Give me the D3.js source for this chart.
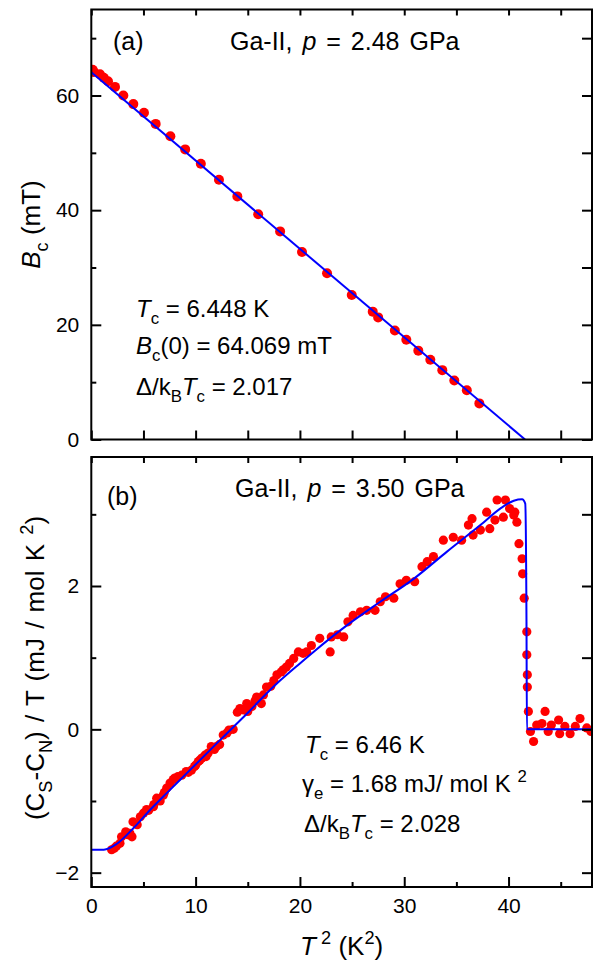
<!DOCTYPE html>
<html>
<head>
<meta charset="utf-8">
<script src="https://cdn.jsdelivr.net/npm/d3@7"></script>
<style>
  body { margin: 0; background: #fff; }
  text { font-family: "Liberation Sans", Arial, sans-serif; fill: #000; }
</style>
</head>
<body>
<div id="chart"></div>
<script>
// ---- data: panel (a) critical field vs T^2 ----
const bcT2  = [0.13, 0.25, 0.83, 1.2, 1.6, 2.27, 3.07, 4.03, 5.05, 6.17, 7.58, 9.0, 10.5, 12.24, 14.0,
               16.0, 18.1, 20.2, 22.6, 24.97, 26.98, 27.5, 29.1, 30.2, 31.35, 32.5, 33.65, 34.8, 36.0, 37.2];
const bcVal = [64.5, 64.1, 63.7, 63.1, 62.5, 61.5, 60.0, 58.5, 57.0, 55.05, 52.9, 50.6, 48.1, 45.3, 42.4,
               39.3, 36.3, 32.7, 29.0, 25.2, 22.3, 21.3, 19.0, 17.4, 15.5, 13.9, 12.1, 10.3, 8.6, 6.3];
const bcFitT2  = [0, 41.58];
const bcFitVal = [64.069, 0];

// ---- data: panel (b) specific heat difference vs T^2 ----
const cpT2 = [1.95, 2.2, 2.4, 2.75, 2.9, 3.3, 3.5, 3.7, 3.9, 4.0, 4.4, 4.7, 5.0, 5.3, 5.5, 5.95, 6.0, 6.27,
              6.6, 6.9, 7.0, 7.23, 7.55, 7.86, 8.0, 8.3, 8.67, 9.1, 9.3, 9.6, 9.9, 10.0, 10.26, 10.4, 10.6,
              10.9, 11.0, 11.2, 11.5, 11.8, 12.0, 12.3, 12.65, 13.0, 13.2, 13.6, 14.0, 14.25, 14.6, 14.9, 15.0,
              15.4, 15.7, 15.85, 16.3, 16.5, 16.8, 17.2, 17.5, 17.8, 18.2, 18.4, 18.7, 19.0, 19.4, 19.85, 20.3,
              20.65, 21.1, 21.9, 22.9, 23.0, 23.6, 24.2, 24.6, 25.1, 25.8, 26.4, 27.2, 27.7, 28.2, 29.0, 29.6,
              30.2, 31.0, 31.7, 32.2, 32.8, 33.75, 34.7, 35.5, 36.15, 36.5, 36.6, 37.3, 37.9, 38.2, 38.7, 38.9,
              39.5, 39.7, 40.1, 40.5, 40.6, 40.8, 41.0, 41.3, 41.35, 41.5, 41.75, 41.75, 41.8, 41.8, 41.9, 42.1,
              42.4, 42.7, 43.2, 43.5, 43.8, 44.1, 44.8, 44.9, 45.4, 45.9, 46.4, 46.85, 47.5, 47.9];
const cpVal = [-1.68, -1.66, -1.63, -1.59, -1.50, -1.43, -1.47, -1.45, -1.50, -1.29, -1.33, -1.22, -1.17,
               -1.12, -1.13, -1.08, -1.05, -0.96, -1.0, -0.92, -0.88, -0.82, -0.75, -0.70, -0.68, -0.66, -0.64,
               -0.59, -0.60, -0.57, -0.52, -0.50, -0.45, -0.43, -0.40, -0.36, -0.38, -0.33, -0.24, -0.28, -0.24,
               -0.21, -0.08, -0.05, -0.01, 0.0, 0.24, 0.29, 0.27, 0.36, 0.25, 0.32, 0.40, 0.45, 0.36, 0.48,
               0.59, 0.60, 0.68, 0.76, 0.80, 0.83, 0.87, 0.92, 0.99, 1.08, 1.06, 1.08, 1.17, 1.27, 1.08, 1.29,
               1.32, 1.29, 1.50, 1.59, 1.64, 1.66, 1.66, 1.78, 1.85, 1.83, 2.03, 2.08, 2.06, 2.27, 2.34, 2.41,
               2.64, 2.68, 2.64, 2.85, 2.94, 2.71, 2.78, 3.03, 2.80, 2.92, 3.20, 2.96, 3.20, 3.08, 2.99, 3.03,
               2.89, 2.59, 2.38, 2.17, 1.83, 1.36, 1.04, 0.76, 0.59, 0.25, -0.03, -0.17, 0.06, 0.08, 0.25,
               -0.03, 0.06, 0.13, -0.06, 0.04, -0.06, 0.04, 0.15, 0.02, -0.03];
const cpFitT2  = [0, 1.2, 2.43, 4.03, 5.63, 7.23, 8.82, 10.42, 12.0, 13.6, 15.2, 16.8, 18.1, 20.0, 21.3,
                  24.5, 27.7, 30.9, 34.1, 37.3, 39.2, 40.5, 41.3, 41.6, 41.72, 41.76, 48];
const cpFitVal = [-1.68, -1.68, -1.60, -1.38, -1.125, -0.89, -0.66, -0.43, -0.2, 0.03, 0.26, 0.5, 0.68, 0.92,
                  1.08, 1.45, 1.78, 2.10, 2.48, 2.85, 3.08, 3.19, 3.21, 3.15, 1.5, 0, 0];

// ---- ticks ----
const xMajor = [0, 10, 20, 30, 40];
const xMinor = [5, 15, 25, 35, 45];
const bcMajor = [0, 20, 40, 60];
const bcMinor = [10, 30, 50, 70];
const cpMajor = [-2, 0, 2];
const cpMinor = [-1, 1, 3];

// ---- layout ----
const width = 601, height = 965;
const left = 91.3, right = 592;
const topA = 9.5, botA = 439.5;
const topB = 457, botB = 887;

const svg = d3.select('#chart').append('svg')
  .attr('width', width)
  .attr('height', height)
  .style('background', '#fff');

const x = d3.scaleLinear().domain([0, 48]).range([left, right]);
const yA = d3.scaleLinear().domain([0, 75]).range([botA, topA]);
const yB = d3.scaleLinear().domain([-2.2, 3.8]).range([botB, topB]);

// styled text with sub/superscripts; parts: [text, style] where style in {'', 'i', 'sub', 'sup'}
function richText(g, parts, size) {
  const t = g.append('text').style('font-size', size + 'px');
  let shift = 0;
  parts.forEach(([s, st]) => {
    const ts = t.append('tspan').attr('xml:space', 'preserve').text(s);
    let target = 0;
    if (st === 'sub') target = size * 0.3;
    if (st === 'sup') target = -size * 0.42;
    if (st === 'sub' || st === 'sup') ts.style('font-size', (size * 0.7) + 'px');
    if (st === 'i') ts.style('font-style', 'italic');
    if (target !== shift) { ts.attr('dy', target - shift); shift = target; }
  });
  return t;
}

function drawAxes(y, top, bot, major, minor, allY, bottomLabels, bottomMajorLen, bottomMinorLen) {
  const g = svg.append('g');
  const noLab = () => '';
  // left
  g.append('g').attr('transform', `translate(${left},0)`)
    .call(d3.axisLeft(y).tickValues(major).tickSize(-10).tickPadding(12).tickFormat(d3.format('d')));
  g.append('g').attr('transform', `translate(${left},0)`)
    .call(d3.axisLeft(y).tickValues(minor).tickSize(-5).tickFormat(noLab));
  // right
  g.append('g').attr('transform', `translate(${right},0)`)
    .call(d3.axisRight(y).tickValues(allY).tickSize(-10).tickFormat(noLab));
  // top
  g.append('g').attr('transform', `translate(0,${top})`)
    .call(d3.axisTop(x).tickValues(xMajor.concat(xMinor)).tickSize(-6).tickFormat(noLab));
  // bottom
  g.append('g').attr('transform', `translate(0,${bot})`)
    .call(d3.axisBottom(x).tickValues(xMajor).tickSize(-bottomMajorLen).tickPadding(11)
      .tickFormat(bottomLabels ? d3.format('d') : noLab));
  g.append('g').attr('transform', `translate(0,${bot})`)
    .call(d3.axisBottom(x).tickValues(xMinor).tickSize(-bottomMinorLen).tickFormat(noLab));
  g.selectAll('.domain').remove();
  g.selectAll('.tick line').attr('stroke', '#000').attr('stroke-width', 2);
  g.selectAll('.tick text').style('font-size', '21px').attr('fill', '#000')
    .style('font-family', '"Liberation Sans", Arial, sans-serif');
  svg.append('rect')
    .attr('x', left).attr('y', top)
    .attr('width', right - left).attr('height', bot - top)
    .attr('fill', 'none').attr('stroke', '#000').attr('stroke-width', 2);
}

function clip(id, top, bot) {
  svg.append('clipPath').attr('id', id).append('rect')
    .attr('x', left).attr('y', top).attr('width', right - left).attr('height', bot - top);
}
clip('clipA', topA, botA);
clip('clipB', topB, botB);

// ---- panel (a) ----
const pa = svg.append('g').attr('clip-path', 'url(#clipA)');
pa.selectAll('circle').data(bcT2).join('circle')
  .attr('cx', d => x(d))
  .attr('cy', (d, i) => yA(bcVal[i]))
  .attr('r', 5)
  .attr('fill', '#ff0000');
pa.append('path')
  .datum(bcFitT2.map((d, i) => [d, bcFitVal[i]]))
  .attr('d', d3.line().x(d => x(d[0])).y(d => yA(d[1])))
  .attr('fill', 'none').attr('stroke', '#0000ff').attr('stroke-width', 2);

drawAxes(yA, topA, botA, bcMajor, bcMinor, d3.range(0, 80, 10), false, 9, 9);

// ---- panel (b) ----
const pb = svg.append('g').attr('clip-path', 'url(#clipB)');
pb.selectAll('circle').data(cpT2).join('circle')
  .attr('cx', d => x(d))
  .attr('cy', (d, i) => yB(cpVal[i]))
  .attr('r', 4.6)
  .attr('fill', '#ff0000');
pb.append('path')
  .datum(cpFitT2.map((d, i) => [d, cpFitVal[i]]))
  .attr('d', d3.line().x(d => x(d[0])).y(d => yB(d[1])).curve(d3.curveMonotoneX))
  .attr('fill', 'none').attr('stroke', '#0000ff').attr('stroke-width', 2);

drawAxes(yB, topB, botB, cpMajor, cpMinor, d3.range(-2, 4, 1), true, 10, 5);

// ---- labels ----
richText(svg, [['(a)', '']], 25).attr('x', 113).attr('y', 50);
richText(svg, [['Ga-II, ', ''], ['p', 'i'], [' = 2.48 GPa', '']], 25)
  .attr('x', 230).attr('y', 50).style('word-spacing', '3px');
richText(svg, [['(b)', '']], 25).attr('x', 107).attr('y', 505);
richText(svg, [['Ga-II, ', ''], ['p', 'i'], [' = 3.50 GPa', '']], 25)
  .attr('x', 235).attr('y', 497).style('word-spacing', '3px');

const annA = [
  [['T', 'i'], ['c', 'sub'], [' = 6.448 K', '']],
  [['B', 'i'], ['c', 'sub'], ['(0) = 64.069 mT', '']],
  [['\u0394/k', ''], ['B', 'sub'], ['T', 'i'], ['c', 'sub'], [' = 2.017', '']]
];
[317, 354, 395].forEach((yy, i) => richText(svg, annA[i], 24).attr('x', 136).attr('y', yy));

const annB = [
  [['T', 'i'], ['c', 'sub'], [' = 6.46 K', '']],
  [['\u03b3', ''], ['e', 'sub'], [' = 1.68 mJ/ mol K ', ''], ['2', 'sup']],
  [['\u0394/k', ''], ['B', 'sub'], ['T', 'i'], ['c', 'sub'], [' = 2.028', '']]
];
[[305, 753], [302, 792], [304, 832]].forEach(([xx, yy], i) => richText(svg, annB[i], 24).attr('x', xx).attr('y', yy));

// axis titles
richText(svg, [['T', 'i'], [' 2', 'sup'], [' (K', ''], ['2', 'sup'], [')', '']], 26)
  .attr('text-anchor', 'middle')
  .attr('transform', `translate(${(left + right) / 2},955)`);
richText(svg, [['B', 'i'], ['c', 'sub'], [' (mT)', '']], 26)
  .attr('text-anchor', 'middle')
  .attr('transform', `translate(40,${(topA + botA) / 2}) rotate(-90)`);
richText(svg, [['(C', ''], ['S', 'sub'], ['-C', ''], ['N', 'sub'], [') / T (mJ / mol K ', ''], ['2', 'sup'], [')', '']], 26)
  .attr('text-anchor', 'middle').style('word-spacing', '2px')
  .attr('transform', `translate(44,668) rotate(-90)`);
</script>
</body>
</html>
